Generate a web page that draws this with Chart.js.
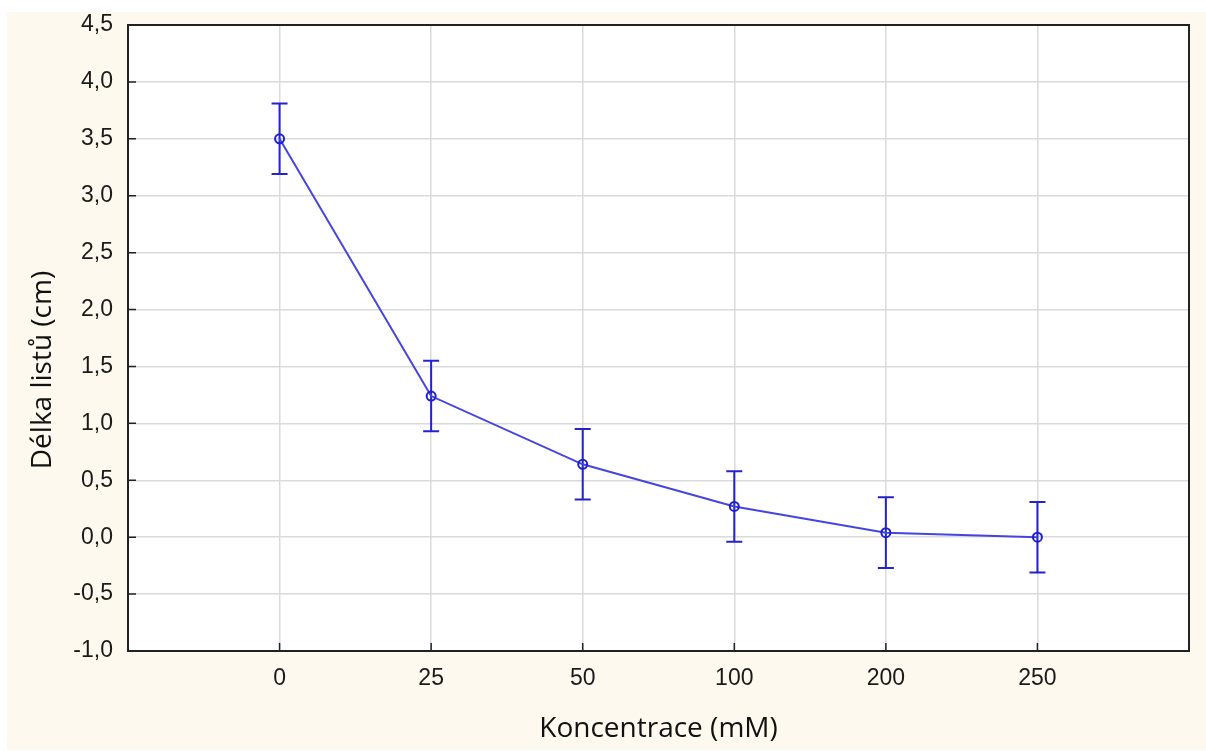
<!DOCTYPE html>
<html>
<head>
<meta charset="utf-8">
<script src="https://cdn.jsdelivr.net/npm/chart.js@4"></script>
<style>
  html, body { margin: 0; padding: 0; background: #ffffff; }
  canvas { display: block; }
</style>
</head>
<body>
<canvas id="chart" width="1206" height="751"></canvas>
<script>
// data
const categories = ['0', '25', '50', '100', '200', '250'];
const meanLength = [3.50, 1.24, 0.64, 0.27, 0.04, 0.00];
const errLength = [0.31, 0.31, 0.31, 0.31, 0.31, 0.31];
const yTicks = [-1.0, -0.5, 0.0, 0.5, 1.0, 1.5, 2.0, 2.5, 3.0, 3.5, 4.0, 4.5];
const yTitle = 'Délka listů (cm)';

const points = meanLength.map((v, i) => ({ x: i, y: v }));

// backgrounds: cream page, white plot area
const backgroundPlugin = {
    id: 'backgrounds',
    beforeDraw(chart) {
        const { ctx, chartArea } = chart;
        ctx.save();
        ctx.fillStyle = '#ffffff';
        ctx.fillRect(0, 0, chart.width, chart.height);
        ctx.fillStyle = '#fef9ef';
        ctx.fillRect(7, 12, chart.width - 7, chart.height - 13);
        ctx.fillStyle = '#ffffff';
        ctx.fillRect(chartArea.left, chartArea.top, chartArea.right - chartArea.left, chartArea.bottom - chartArea.top);
        ctx.restore();
    }
};

// error bars drawn under the points, frame + inward ticks + y title on top
const errorBarPlugin = {
    id: 'errorBars',
    beforeDatasetsDraw(chart) {
        const { ctx } = chart;
        const xs = chart.scales.x, ys = chart.scales.y;
        ctx.save();
        ctx.strokeStyle = '#2323c8';
        ctx.lineWidth = 2;
        meanLength.forEach((v, i) => {
            const px = xs.getPixelForValue(i);
            const top = ys.getPixelForValue(v + errLength[i]);
            const bot = ys.getPixelForValue(v - errLength[i]);
            ctx.beginPath();
            ctx.moveTo(px, top); ctx.lineTo(px, bot);
            ctx.moveTo(px - 8, top); ctx.lineTo(px + 8, top);
            ctx.moveTo(px - 8, bot); ctx.lineTo(px + 8, bot);
            ctx.stroke();
        });
        ctx.restore();
    },
    afterDraw(chart) {
        const { ctx, chartArea } = chart;
        const xs = chart.scales.x, ys = chart.scales.y;
        ctx.save();
        ctx.strokeStyle = '#222222';
        ctx.lineWidth = 1.5;
        ctx.beginPath();
        yTicks.forEach(t => {
            const py = ys.getPixelForValue(t);
            ctx.moveTo(chartArea.left, py); ctx.lineTo(chartArea.left + 8, py);
        });
        categories.forEach((c, i) => {
            const px = xs.getPixelForValue(i);
            ctx.moveTo(px, chartArea.bottom); ctx.lineTo(px, chartArea.bottom - 8);
        });
        ctx.stroke();
        ctx.lineWidth = 2;
        ctx.strokeRect(chartArea.left, chartArea.top, chartArea.right - chartArea.left, chartArea.bottom - chartArea.top);

        // y axis title (sits a bit below the plot centre in the original)
        ctx.translate(43, 370);
        ctx.rotate(-Math.PI / 2);
        ctx.fillStyle = '#111111';
        ctx.font = '28px "Open Sans", sans-serif';
        ctx.textAlign = 'center';
        ctx.textBaseline = 'middle';
        ctx.fillText(yTitle, 0, 0);
        ctx.restore();
    }
};

new Chart(document.getElementById('chart'), {
    type: 'line',
    data: {
        datasets: [{
            data: points,
            borderColor: '#4545dd',
            borderWidth: 2,
            pointRadius: 4.5,
            pointBorderWidth: 2,
            pointBorderColor: '#1f1fcc',
            pointBackgroundColor: 'rgba(0,0,0,0)',
            tension: 0
        }]
    },
    options: {
        responsive: false,
        animation: false,
        devicePixelRatio: 1,
        layout: { padding: { top: 25, right: 17, left: 0, bottom: 0 } },
        plugins: { legend: { display: false }, tooltip: { enabled: false } },
        scales: {
            x: {
                type: 'linear',
                min: -1,
                max: 6,
                afterBuildTicks: (scale) => {
                    scale.ticks = [-1, 0, 1, 2, 3, 4, 5, 6].map(v => ({ value: v }));
                },
                afterFit: (scale) => {
                    scale.height = 100;
                    scale.paddingLeft = 0;
                    scale.paddingRight = 0;
                },
                border: { display: false },
                grid: { color: '#dadada', lineWidth: 1.5, drawTicks: false },
                ticks: {
                    padding: 14,
                    color: '#1a1a1a',
                    font: { family: '"Liberation Sans", Arial, sans-serif', size: 23 },
                    callback: (v) => (categories[v] !== undefined ? categories[v] : '')
                },
                title: {
                    display: true,
                    text: 'Koncentrace (mM)',
                    color: '#111111',
                    font: { family: '"Open Sans", sans-serif', size: 28 },
                    padding: { top: 0, bottom: 5 }
                }
            },
            y: {
                min: -1,
                max: 4.5,
                afterBuildTicks: (scale) => {
                    scale.ticks = yTicks.map(v => ({ value: v }));
                },
                afterFit: (scale) => {
                    scale.width = 128;
                    scale.paddingTop = 0;
                    scale.paddingBottom = 0;
                },
                border: { display: false },
                grid: { color: '#dadada', lineWidth: 1.5, drawTicks: false },
                ticks: {
                    padding: 15,
                    color: '#1a1a1a',
                    font: { family: '"Liberation Sans", Arial, sans-serif', size: 23 },
                    callback: (v) => v.toFixed(1).replace('.', ',')
                }
            }
        }
    },
    plugins: [backgroundPlugin, errorBarPlugin]
});
</script>
</body>
</html>
